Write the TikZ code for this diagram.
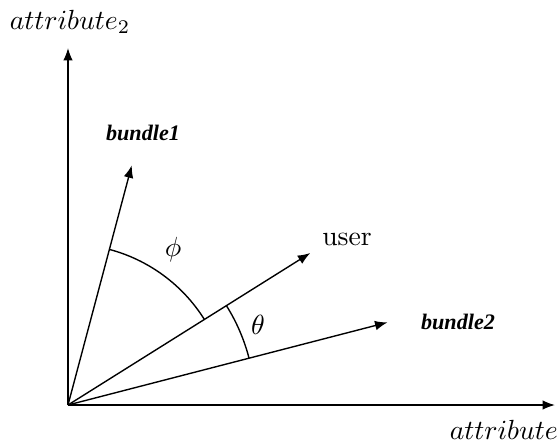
\documentclass[tikz,border=0pt]{standalone}
\usepackage{fontspec}
\newfontfamily\bundlefont{Liberation Serif}
\usetikzlibrary{arrows.meta}
\tikzset{
    vec/.style={-{Latex[length=4.5pt,width=3.5pt]}, line width=0.5pt},
    axis/.style={-{Latex[length=4.5pt,width=3.5pt]}, line width=0.6pt},
    bundlelabel/.style={font=\bundlefont\footnotesize\bfseries\itshape},
    anglelabel/.style={font=\normalsize}
}
\begin{document}
\begin{tikzpicture}[x=0.0127cm, y=0.0127cm]
\useasboundingbox (-68,-37) rectangle (489,405);
\coordinate (o) at (0,0);
\coordinate (xend) at (487,0);
\coordinate (yend) at (0,357);
\coordinate (b1) at (75.1:248);
\coordinate (u) at (32.1:286);
\coordinate (b2) at (14.5:330);
\draw[axis] (o) -- (xend);
\draw[axis] (o) -- (yend);
\draw[vec] (o) -- (b1);
\draw[vec] (o) -- (u);
\draw[vec] (o) -- (b2);
% angle arcs
\draw[line width=0.5pt] (32.1:161) arc[start angle=32.1, end angle=75.1, radius=161];
\draw[line width=0.5pt] (14.5:187) arc[start angle=14.5, end angle=32.1, radius=187];
% labels
\node (ylab) at (2,383) {$attribute_2$};
\node[anchor=west] (xlab) at (372,-27) {$attribute_1$};
\node (ulab) at (279,166) {user};
\node[anglelabel] (phi) at (105,155) {$\phi$};
\node[anglelabel] (theta) at (190,80) {$\theta$};
\node[bundlelabel] (b1lab) at (75,272) {bundle1};
\node[bundlelabel] (b2lab) at (390,83) {bundle2};
\end{tikzpicture}
\end{document}
